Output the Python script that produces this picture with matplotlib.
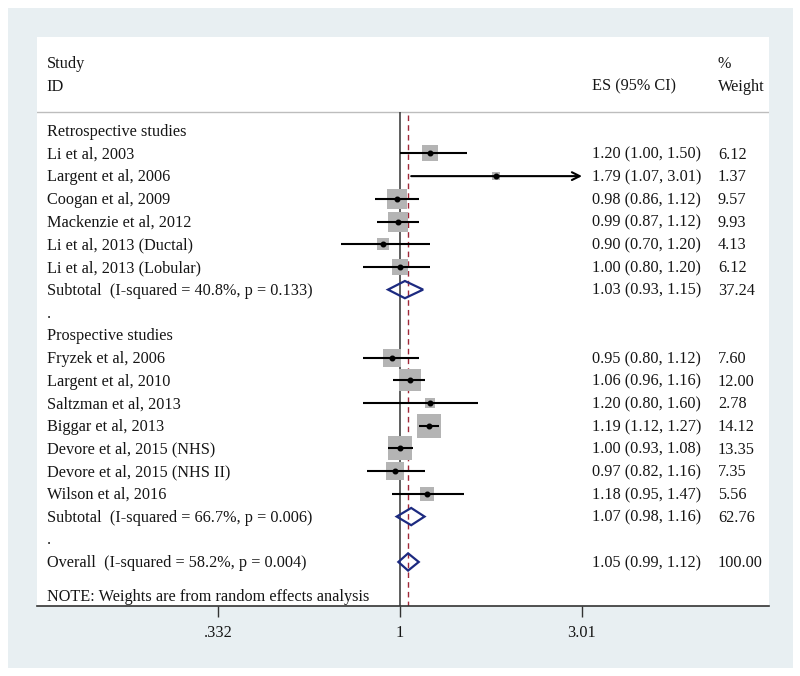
import matplotlib
matplotlib.use("Agg")
import matplotlib.pyplot as plt
from matplotlib.patches import Rectangle, Polygon

plt.rcParams['font.family'] = ['Liberation Serif', 'DejaVu Serif']

# Retrospective studies
retro_names = ['Li et al, 2003', 'Largent et al, 2006', 'Coogan et al, 2009',
               'Mackenzie et al, 2012', 'Li et al, 2013 (Ductal)', 'Li et al, 2013 (Lobular)']
retro_es = [1.20, 1.79, 0.98, 0.99, 0.90, 1.00]
retro_lo = [1.00, 1.07, 0.86, 0.87, 0.70, 0.80]
retro_hi = [1.50, 3.01, 1.12, 1.12, 1.20, 1.20]
retro_w = [6.12, 1.37, 9.57, 9.93, 4.13, 6.12]

# Prospective studies
prosp_names = ['Fryzek et al, 2006', 'Largent et al, 2010', 'Saltzman et al, 2013',
               'Biggar et al, 2013', 'Devore et al, 2015 (NHS)', 'Devore et al, 2015 (NHS II)',
               'Wilson et al, 2016']
prosp_es = [0.95, 1.06, 1.20, 1.19, 1.00, 0.97, 1.18]
prosp_lo = [0.80, 0.96, 0.80, 1.12, 0.93, 0.82, 0.95]
prosp_hi = [1.12, 1.16, 1.60, 1.27, 1.08, 1.16, 1.47]
prosp_w = [7.60, 12.00, 2.78, 14.12, 13.35, 7.35, 5.56]

# pooled estimates: es, lo, hi, weight, I-squared, p
sub_retro = [1.03, 0.93, 1.15, 37.24, '40.8%', '0.133']
sub_prosp = [1.07, 0.98, 1.16, 62.76, '66.7%', '0.006']
overall = [1.05, 0.99, 1.12, 100.00, '58.2%', '0.004']

tick_vals = [0.332, 1, 3.01]
tick_labels = ['.332', '1', '3.01']

W, H = 800, 676
fig = plt.figure(figsize=(W / 100, H / 100), dpi=100, facecolor='white')
fig.patches.append(Rectangle((8 / W, 8 / H), 785 / W, 660 / H, transform=fig.transFigure,
                             facecolor='#e8eff2', edgecolor='none', zorder=-1))

ax = fig.add_axes([37 / W, (H - 606) / H, 732 / W, 569 / H])
ax.set_facecolor('white')
ax.set_xscale('log')
ax.set_xlim(0.111, 9.34)
ax.set_ylim(20.94, -4.13)

fs = 11.7
tc = '#151515'
tr = ax.get_yaxis_transform()
x_left, x_es, x_w = 0.0133, 0.758, 0.930
base = 0.23  # baseline offset below row centre


def txt(x, r, s):
    ax.text(x, r + base, s, transform=tr, fontsize=fs, color=tc, va='baseline')


# header
txt(x_left, -3.0, 'Study')
txt(x_left, -2.0, 'ID')
txt(x_es, -2.0, 'ES (95% CI)')
txt(x_w, -3.0, '%')
txt(x_w, -2.0, 'Weight')
ax.axhline(-0.81, color='#bdbdbd', lw=1)

# reference lines
ax.vlines(1, -0.81, 20.94, color='#333333', lw=1.1, zorder=2)
ax.vlines(overall[0], -0.7, 20.94, color='#a02838', lw=1, linestyles=(0, (4, 3)), zorder=2)


def draw_pooled(r, label, p):
    txt(x_left, r, f'{label}  (I-squared = {p[4]}, p = {p[5]})')
    txt(x_es, r, f'{p[0]:.2f} ({p[1]:.2f}, {p[2]:.2f})')
    txt(x_w, r, f'{p[3]:.2f}')
    h = 0.38
    ax.add_patch(Polygon([(p[1], r), (p[0], r - h), (p[2], r), (p[0], r + h)], closed=True,
                         fill=False, edgecolor='#1c2a80', lw=1.6, zorder=5))


def draw_group(start, title, names, es, lo, hi, w, sub):
    txt(x_left, start, title)
    for i in range(len(names)):
        r = start + 1 + i
        txt(x_left, r, names[i])
        txt(x_es, r, f'{es[i]:.2f} ({lo[i]:.2f}, {hi[i]:.2f})')
        txt(x_w, r, f'{w[i]:.2f}')
        ax.scatter(es[i], r, s=20.6 * w[i], marker='s', color='#b4b4b4', lw=0, zorder=3)
        if hi[i] >= tick_vals[-1]:
            ax.annotate('', xy=(hi[i], r), xytext=(lo[i], r),
                        arrowprops=dict(arrowstyle='->', lw=1.5, color='black',
                                        shrinkA=0, shrinkB=0, mutation_scale=14), zorder=4)
        else:
            ax.hlines(r, lo[i], hi[i], color='black', lw=1.5, zorder=4)
        ax.plot(es[i], r, 'o', color='black', ms=3.3, zorder=5)
    r = start + 1 + len(names)
    draw_pooled(r, 'Subtotal', sub)
    txt(x_left, r + 1, '.')


draw_group(0, 'Retrospective studies', retro_names, retro_es, retro_lo, retro_hi, retro_w, sub_retro)
draw_group(9, 'Prospective studies', prosp_names, prosp_es, prosp_lo, prosp_hi, prosp_w, sub_prosp)
draw_pooled(19, 'Overall', overall)
txt(x_left, 20.5, 'NOTE: Weights are from random effects analysis')

# axis
for s in ['top', 'left', 'right']:
    ax.spines[s].set_visible(False)
ax.spines['bottom'].set_color('#333333')
ax.spines['bottom'].set_linewidth(1.2)
ax.set_yticks([])
ax.set_xticks(tick_vals)
ax.set_xticklabels(tick_labels)
ax.xaxis.set_minor_locator(matplotlib.ticker.NullLocator())
ax.tick_params(axis='x', length=8, width=1, color='#333333', labelsize=fs,
               labelcolor=tc, pad=6)

fig.savefig('out.png', dpi=100, facecolor='white')
